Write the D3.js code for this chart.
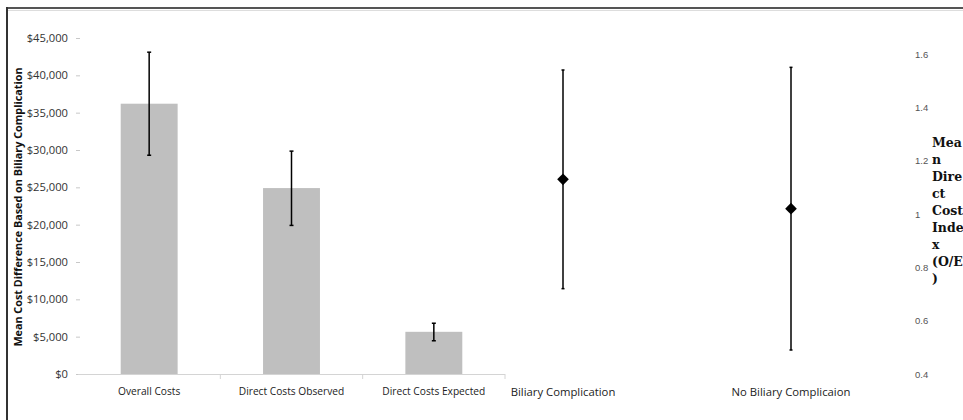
<!DOCTYPE html>
<html>
<head>
<meta charset="utf-8">
<script src="https://cdn.jsdelivr.net/npm/d3@7"></script>
<style>
  html, body { margin: 0; padding: 0; background: #fff; }
  svg { display: block; }
</style>
</head>
<body>
<script>
// ---- data ----
const costCategories = ["Overall Costs", "Direct Costs Observed", "Direct Costs Expected"];
const costValues = [36200, 24900, 5650];
const costErrLow = [29300, 19900, 4450];
const costErrHigh = [43100, 29850, 6800];
const costTicks = [0, 5000, 10000, 15000, 20000, 25000, 30000, 35000, 40000, 45000];

const indexCategories = ["Biliary Complication", "No Biliary Complicaion"];
const indexValues = [1.13, 1.02];
const indexLow = [0.72, 0.49];
const indexHigh = [1.54, 1.55];
const indexTicks = [0.4, 0.6, 0.8, 1.0, 1.2, 1.4, 1.6];
const indexTickLabels = ["0.4", "0.6", "0.8", "1", "1.2", "1.4", "1.6"];

const leftTitle = "Mean Cost Difference Based on Biliary Complication";
const rightTitleLines = ["Mea", "n", "Dire", "ct", "Cost", "Inde", "x", "(O/E", ")"];

// ---- drawing ----
const W = 963, H = 420;
const svg = d3.select("body").append("svg").attr("width", W).attr("height", H);

// frame
svg.append("line").attr("x1", 7).attr("x2", W).attr("y1", 8).attr("y2", 8)
  .attr("stroke", "#555").attr("stroke-width", 2);
svg.append("line").attr("x1", 8).attr("x2", W).attr("y1", 10.5).attr("y2", 10.5)
  .attr("stroke", "#ddd").attr("stroke-width", 1);
svg.append("line").attr("x1", 7).attr("x2", 7).attr("y1", 7).attr("y2", H)
  .attr("stroke", "#333").attr("stroke-width", 2);

const sans = "'Open Sans', 'Liberation Sans', sans-serif";

// left chart
const y = d3.scaleLinear().domain([0, 45000]).range([374, 38]);
const x = d3.scaleBand().domain(costCategories).range([78, 505]).paddingInner(0.6).paddingOuter(0.3);

const yAxis = svg.append("g").attr("transform", "translate(80,0)")
  .call(d3.axisLeft(y).tickValues(costTicks).tickSize(4).tickPadding(8)
    .tickFormat(d => "$" + d3.format(",")(d)));
yAxis.select(".domain").remove();
yAxis.selectAll(".tick line").attr("stroke", "#c8c8c8");
yAxis.selectAll(".tick text").attr("fill", "#333").style("font-family", sans).style("font-size", "11.2px");

// baseline
svg.append("line").attr("x1", 78).attr("x2", 505).attr("y1", y(0) + 0.5).attr("y2", y(0) + 0.5)
  .attr("stroke", "#d4d4d4");
// category boundary ticks
const step = x.step();
const bounds = costCategories.map((c) => x(c) + x.bandwidth() / 2 + step / 2);
svg.selectAll("line.ctick").data(bounds).join("line").attr("class", "ctick")
  .attr("x1", d => d).attr("x2", d => d).attr("y1", y(0)).attr("y2", y(0) + 5)
  .attr("stroke", "#d4d4d4");

svg.selectAll("rect.bar").data(costCategories).join("rect").attr("class", "bar")
  .attr("x", d => x(d)).attr("width", x.bandwidth())
  .attr("y", (d, i) => y(costValues[i])).attr("height", (d, i) => y(0) - y(costValues[i]))
  .attr("fill", "#bfbfbf");

const errG = svg.append("g");
costCategories.forEach((c, i) => {
  const cx = x(c) + x.bandwidth() / 2;
  errG.append("line").attr("x1", cx).attr("x2", cx).attr("y1", y(costErrLow[i])).attr("y2", y(costErrHigh[i]))
    .attr("stroke", "#000").attr("stroke-width", 1.5);
  [costErrLow[i], costErrHigh[i]].forEach(v => {
    errG.append("line").attr("x1", cx - 2).attr("x2", cx + 2).attr("y1", y(v)).attr("y2", y(v))
      .attr("stroke", "#000").attr("stroke-width", 1.5);
  });
});

svg.selectAll("text.cat").data(costCategories).join("text").attr("class", "cat")
  .attr("x", d => x(d) + x.bandwidth() / 2).attr("y", 395)
  .attr("text-anchor", "middle").attr("fill", "#222")
  .style("font-family", sans).style("font-size", "10.2px").text(d => d);

svg.append("text").attr("transform", "translate(22,207) rotate(-90)")
  .attr("text-anchor", "middle").attr("fill", "#111")
  .style("font-family", sans).style("font-size", "10.8px").style("font-weight", "bold")
  .text(leftTitle);

// right chart
const y2 = d3.scaleLinear().domain([0.4, 1.6]).range([374, 54]);
const x2 = d3.scaleBand().domain(indexCategories).range([449, 905]);

const y2Axis = svg.append("g").attr("transform", "translate(911,0)")
  .call(d3.axisRight(y2).tickValues(indexTicks).tickSize(0).tickPadding(4)
    .tickFormat((d, i) => indexTickLabels[i]));
y2Axis.select(".domain").remove();
y2Axis.selectAll(".tick text").attr("fill", "#555")
  .style("font-family", "'Liberation Sans', sans-serif").style("font-size", "9.5px");

const ptG = svg.append("g");
indexCategories.forEach((c, i) => {
  const cx = x2(c) + x2.bandwidth() / 2;
  ptG.append("line").attr("x1", cx).attr("x2", cx).attr("y1", y2(indexLow[i])).attr("y2", y2(indexHigh[i]))
    .attr("stroke", "#000").attr("stroke-width", 1.5);
  [indexLow[i], indexHigh[i]].forEach(v => {
    ptG.append("line").attr("x1", cx - 1.5).attr("x2", cx + 1.5).attr("y1", y2(v)).attr("y2", y2(v))
      .attr("stroke", "#000").attr("stroke-width", 1.5);
  });
  ptG.append("path").attr("d", d3.symbol().type(d3.symbolSquare).size(68)())
    .attr("transform", `translate(${cx},${y2(indexValues[i])}) rotate(45)`)
    .attr("fill", "#000");
});

svg.selectAll("text.cat2").data(indexCategories).join("text").attr("class", "cat2")
  .attr("x", d => x2(d) + x2.bandwidth() / 2).attr("y", 396)
  .attr("text-anchor", "middle").attr("fill", "#222")
  .style("font-family", sans).style("font-size", "11.3px").text(d => d);

const rt = svg.append("text").attr("fill", "#111")
  .style("font-family", "'DejaVu Serif', serif").style("font-size", "12.5px").style("font-weight", "bold");
rt.selectAll("tspan").data(rightTitleLines).join("tspan")
  .attr("x", 932).attr("y", (d, i) => 147 + i * 17).text(d => d);
</script>
</body>
</html>
